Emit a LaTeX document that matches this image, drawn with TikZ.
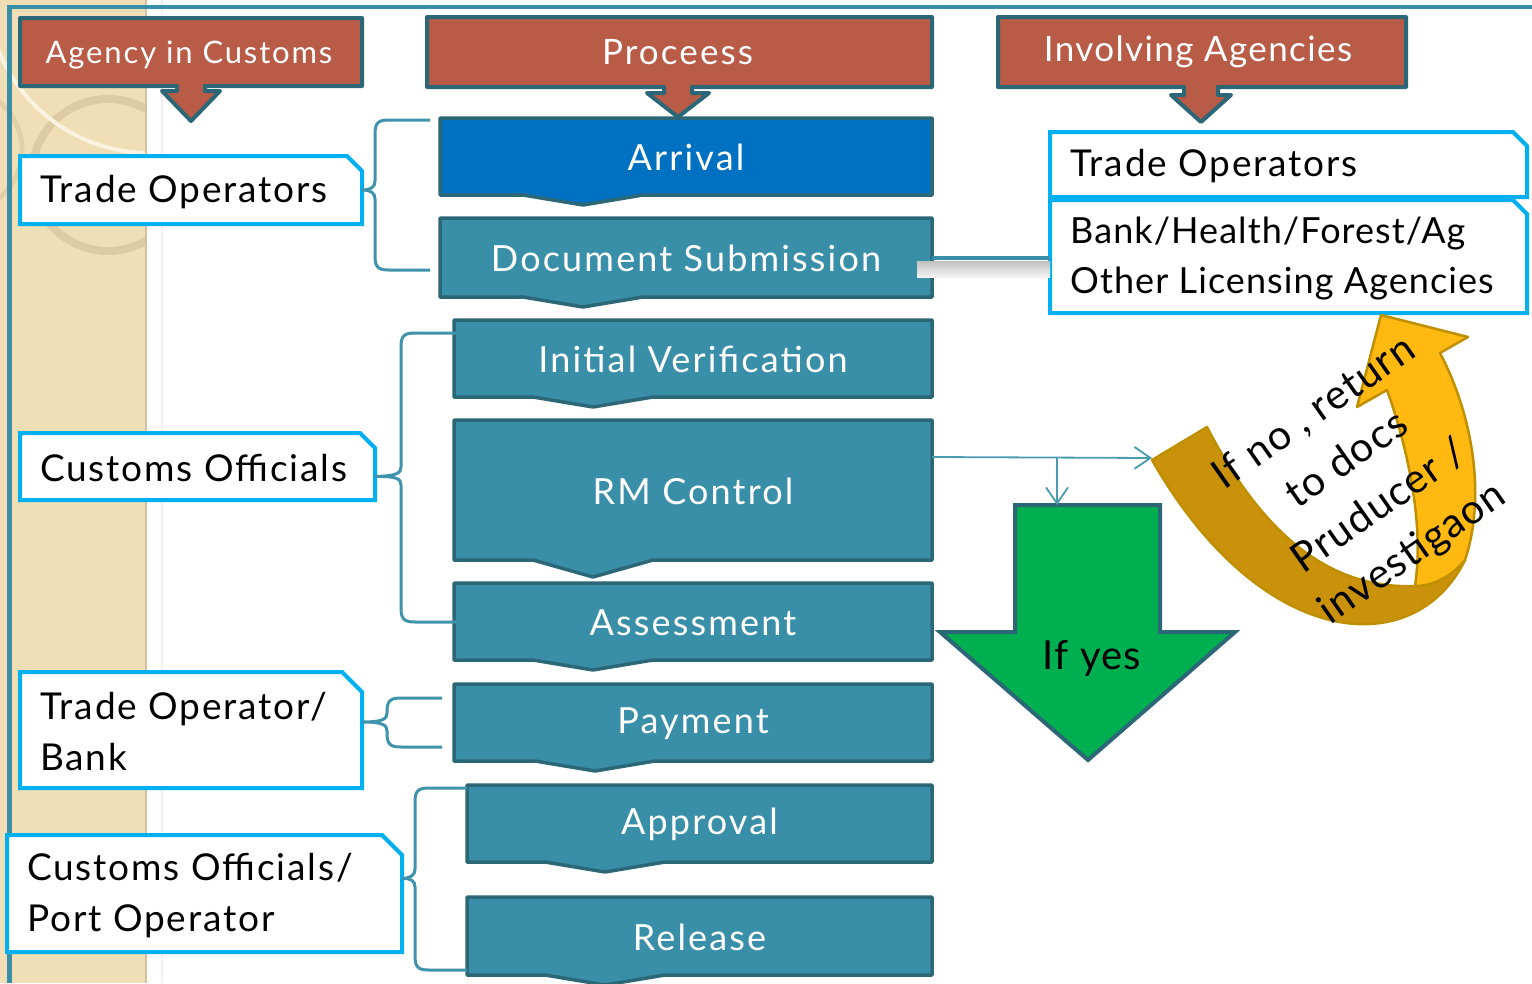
\documentclass[tikz,border=0pt]{standalone}
\usepackage{fontspec}
\setmainfont{Lato}
\newfontfamily\lsfive[LetterSpace=5]{Lato}
\newfontfamily\lssix[LetterSpace=6]{Lato}
\newfontfamily\lsfour[LetterSpace=4]{Lato}
\newfontfamily\lsthree[LetterSpace=3]{Lato}
\usetikzlibrary{arrows.meta,calc}
\definecolor{hdrfill}{HTML}{B85B47}
\definecolor{dkteal}{HTML}{2B6777}
\definecolor{procteal}{HTML}{3A8FA8}
\definecolor{arrblue}{HTML}{0070C0}
\definecolor{lblblue}{HTML}{00B0F0}
\definecolor{bracecol}{HTML}{3F93AC}
\definecolor{conncol}{HTML}{4A9AB0}
\definecolor{beige}{HTML}{F0DFB6}
\definecolor{beigeedge}{HTML}{D4C29E}
\definecolor{ringcol}{HTML}{D9C7A0}
\definecolor{creamcol}{HTML}{FBF3DF}
\definecolor{yesgreen}{HTML}{00B050}
\definecolor{golddark}{HTML}{C9920A}
\definecolor{goldlight}{HTML}{FFB911}
\definecolor{goldedge}{HTML}{BF8F00}

\tikzset{
  hdr/.style={fill=hdrfill, draw=dkteal, line width=4pt, line join=round},
  hdrtext/.style={text=white, inner sep=0pt},
  proc/.style={fill=procteal, draw=dkteal, line width=3.5pt, line join=round},
  proctext/.style={text=white, inner sep=0pt, font={\lssix\fontsize{36}{42}\selectfont}},
  lbl/.style={fill=white, draw=lblblue, line width=4pt, line join=miter},
  lbltext/.style={text=black, inner sep=0pt, align=left, font={\lsfive\fontsize{37}{51}\selectfont}},
  holder/.style={inner sep=0pt, outer sep=0pt},
  bracket/.style={draw=bracecol, line width=3pt},
  conn/.style={draw=conncol, line width=1.8pt, -{Straight Barb[length=16pt,width=22pt]}},
}

% process box: #1 style, #2 name, #3 x1, #4 y1, #5 x2, #6 y2, #7 apex x, #8 depth, #9 text
\newcommand\procbox[9]{%
  \path[proc,#1] (#3,#4) -- (#5,#4) -- (#5,#6) -- ({#7+60},#6) -- (#7,{#6+#8}) -- ({#7-60},#6) -- (#3,#6) -- cycle;
  \node[holder, minimum width={#5-#3}, minimum height={#6-#4}] (#2) at ({(#3+#5)/2},{(#4+#6)/2}) {};
  \node[proctext] (#2-t) at ($(#2.center)+(0,1)$) {#9};
}
% label box: #1 text style, #2 name, #3 x1, #4 y1, #5 x2, #6 y2, #7 cut, #8 text
\newcommand\lblbox[8][]{%
  \path[lbl] (#3,#4) -- ({#5-#7},#4) -- (#5,{#4+#7}) -- (#5,#6) -- (#3,#6) -- cycle;
  \node[holder, minimum width={#5-#3}, minimum height={#6-#4}] (#2) at ({(#3+#5)/2},{(#4+#6)/2}) {};
  \node[lbltext, anchor=west, #1] (#2-t) at ($(#2.west)+(20,2)$) {#8};
}
% bracket: #1 tip point, #2 vertical x, #3 top y, #4 mid y, #5 bottom y, #6 arm end x
\newcommand\bracketpath[6]{%
  \draw[bracket] (#6,#3) -- ({#2+14},#3) .. controls ({#2+3},#3) and (#2,{#3+3}) .. (#2,{#3+14})
    -- (#2,{#4-9}) .. controls (#2,{#4-3}) and ({#2-4},#4) .. (#1)
    (#1) .. controls ({#2-4},#4) and (#2,{#4+3}) .. (#2,{#4+9})
    -- (#2,{#5-14}) .. controls (#2,{#5-3}) and ({#2+3},#5) .. ({#2+14},#5) -- (#6,#5);
}

\begin{document}
\begin{tikzpicture}[x=1pt,y=-1pt]
\useasboundingbox (0,0) rectangle (1532,983);
\fill[white] (0,0) rectangle (1532,983);

% background strip with decorative rings
\fill[beige] (0,0) rectangle (146,983);
\begin{scope}
  \clip (0,0) rectangle (146,983);
  \draw[ringcol, line width=8pt, opacity=0.8] (108,175) circle[radius=76];
  \draw[creamcol, line width=4pt] (150,-10) circle[radius=163];
  \draw[ringcol, line width=5pt, opacity=0.6] (-40,150) circle[radius=62];
\end{scope}
\draw[beigeedge, line width=2.5pt] (146,0) -- (146,983);
\draw[black!6, line width=1.5pt] (162,0) -- (162,983);

% frame lines
\draw[procteal, line width=4.5pt] (9.5,983) -- (9.5,7) -- (1532,7);

% process boxes
\procbox{fill=arrblue}{arrival}{440}{118}{932}{195}{583}{10}{Arrival}
\procbox{}{docsub}{440}{218}{932}{297}{583}{10}{Document Submission}
\procbox{}{initver}{454}{320}{932}{397}{593}{10}{Initial Verification}
\procbox{}{rmc}{454}{420}{932}{560}{593}{17}{RM Control}
\procbox{}{assess}{454}{583}{932}{660}{593}{10}{Assessment}
\procbox{}{payment}{454}{684}{932}{761}{595}{10}{Payment}
\procbox{}{approval}{467}{785}{932}{862}{605}{10}{Approval}
\procbox{}{release}{467}{897}{932}{975}{605}{10}{Release}

% label boxes
\lblbox{lto}{20}{156}{362}{224}{15}{Trade Operators}
\lblbox{lco}{20}{433}{375}{500}{15}{Customs Officials}
\lblbox{ltb}{20}{672}{362}{788}{20}{Trade Operator/\\Bank}
\lblbox{lcp}{7}{835}{402}{952}{20}{Customs Officials/\\Port Operator}
\lblbox{rto}{1050}{132}{1527}{197}{14}{Trade Operators}
\lblbox[font={\lsthree\fontsize{36}{50}\selectfont}]{rba}{1050}{200}{1527}{313}{14}{Bank/Health/Forest/Ag\\Other Licensing Agencies}

% brackets
\coordinate (tip1) at (lto.east);
\coordinate (tip2) at ($(lco.east)+(0,10)$);
\coordinate (tip3) at ($(ltb.east)+(0,-8)$);
\coordinate (tip4) at ($(lcp.east)+(0,-15)$);
\bracketpath{tip1}{375}{120}{190}{270}{430}
\bracketpath{tip2}{401}{333}{476}{622}{456}
\bracketpath{tip3}{387}{698}{722}{747}{442}
\bracketpath{tip4}{415}{788}{878}{970}{467}

% headers with down arrows
\path[hdr] (20,18) -- (362,18) -- (362,86) -- (205,86) -- (205,91) -- (220,91) -- (191,121) -- (162,91) -- (177,91) -- (177,86) -- (20,86) -- cycle;
\node[holder, minimum width=342, minimum height=68] (hagency) at (191,52) {};
\node[hdrtext, font={\lssix\fontsize{31}{36}\selectfont}] at ($(hagency.center)+(-2,3)$) {Agency in Customs};

\path[hdr] (427,17) -- (932,17) -- (932,87) -- (692,87) -- (692,93) -- (709,93) -- (678,117) -- (647,93) -- (664,93) -- (664,87) -- (427,87) -- cycle;
\node[holder, minimum width=505, minimum height=70] (hproc) at (679.5,52) {};
\node[hdrtext, font={\lssix\fontsize{35}{40}\selectfont}] at ($(hproc.center)+(-2,0)$) {Proceess};

\path[hdr] (998,17) -- (1406,17) -- (1406,87) -- (1218,87) -- (1218,95) -- (1231,95) -- (1201,122) -- (1171,95) -- (1184,95) -- (1184,87) -- (998,87) -- cycle;
\node[holder, minimum width=408, minimum height=70] (hinv) at (1202,52) {};
\node[hdrtext, font={\lsfour\fontsize{35}{40}\selectfont}] at ($(hinv.center)+(-4,0)$) {Involving Agencies};

% connector doc submission -> agencies
\coordinate (dsR) at ($(docsub.east)+(0,0)$);
\coordinate (rbaL) at (rba.west |- dsR);
\shade[top color=black!24, bottom color=black!4] ($(dsR)+(-15,4)$) rectangle ($(rbaL)+(0,20)$);
\draw[procteal, line width=4pt] (dsR) -- (rbaL);

% green arrow
\path[fill=yesgreen, draw=dkteal, line width=4pt, line join=miter]
  (1015,505) -- (1160,505) -- (1160,632) -- (1235,632) -- (1088,760) -- (940,632) -- (1015,632) -- cycle;
\node[holder, minimum width=145, minimum height=127] (yes) at (1087.5,568.5) {};
\node[inner sep=0pt, font={\lsthree\fontsize{40}{46}\selectfont}] (yes-t) at (1092,658) {If yes};

% gold U-turn arrow
\path[fill=golddark, draw=goldedge, line width=2.5pt, line join=round]
  (1152,460) -- (1207,427) .. controls (1255,520) and (1320,590) .. (1415,586)
  -- (1465,560) .. controls (1415,662) and (1262,652) .. cycle;
\path[fill=goldlight, draw=goldedge, line width=2.5pt, line join=round]
  (1415,586) .. controls (1425,520) and (1405,440) .. (1387,390)
  -- (1357,407) -- (1381,315) -- (1468,337) -- (1440,353)
  .. controls (1475,420) and (1485,500) .. (1465,560)
  .. controls (1450,578) and (1432,586) .. cycle;
\coordinate (goldtail) at (1152,458);
\node[inner sep=0pt, rotate=35, align=center, font={\lsthree\fontsize{41}{57}\selectfont}] (gold-t) at (1364,484)
  {If no , return\\to docs\\Pruducer /\\investigaon};

% RM control connectors
\coordinate (rmout) at ($(rmc.north east)+(0,37)$);
\coordinate (branch) at (1057,457);
\coordinate (yestop) at (yes.north -| branch);
\draw[conn] (rmout) -- (goldtail);
\draw[conn] (branch) -- (yestop);
\end{tikzpicture}
\end{document}
